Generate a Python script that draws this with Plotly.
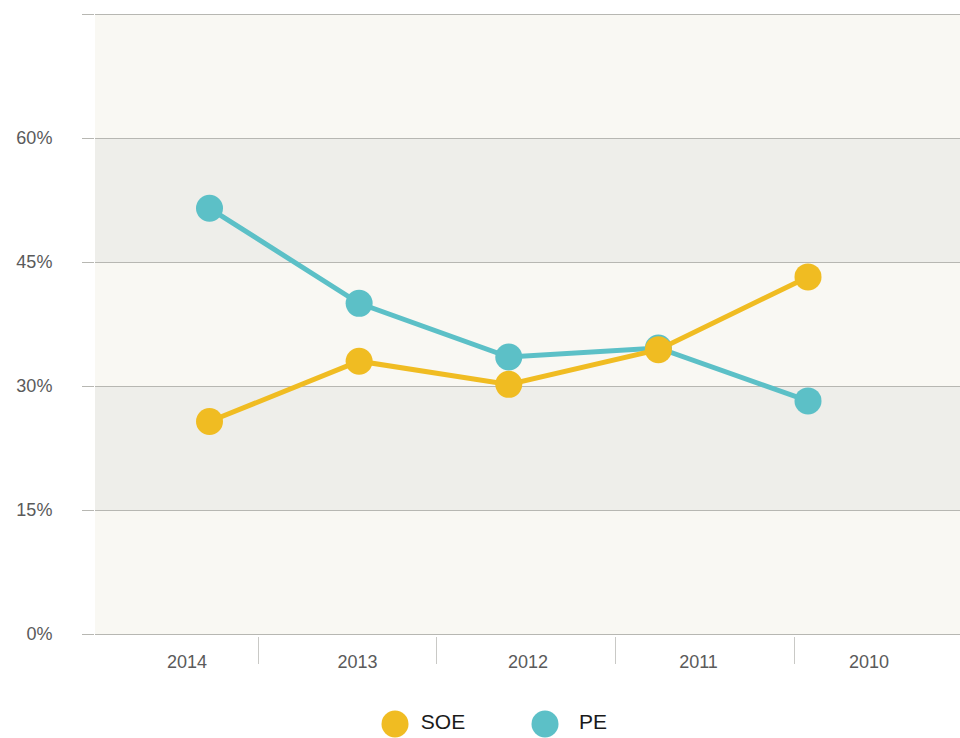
import plotly.graph_objects as go

years = ["2014", "2013", "2012", "2011", "2010"]
soe = [25.7, 33.0, 30.2, 34.4, 43.2]
pe = [51.5, 40.0, 33.5, 34.6, 28.2]
series_names = ["SOE", "PE"]
y_ticks = [0, 15, 30, 45, 60, 75]
y_tick_text = ["0%", "15%", "30%", "45%", "60%", ""]

SOE_C = "#f0bc22"
PE_C = "#5cc0c7"
LIGHT = "#f9f8f3"
DARK = "#eeeeea"
GRID = "#b7b7b2"
n = len(years)
idx = list(range(n))

W, H = 960, 746
SY = H / 738          # vertical pixel targets read on a 738-high picture
L, R = 95, 0          # plot area x: 95..960
Y_TOP, Y_BOT = 14 * SY, 634 * SY  # pixel rows of 75% and 0%
YMAX = 75
pad = 0.3             # small range padding so edge gridlines are drawn
ppy = (Y_BOT - Y_TOP) / YMAX
top_px = Y_TOP - pad * ppy
bot_px = Y_BOT + pad * ppy
ydom = [(H - bot_px) / H, (H - top_px) / H]
pw = W - L - R

# point axis: index 0 -> 209.5px, index 4 -> 808px
p0, p4 = 209.5, 808
ppu = (p4 - p0) / (n - 1)
x_range = [-(p0 - L) / ppu, (n - 1) + (W - R - p4) / ppu]

# label axis (category): first label 187px, last 869px
lab0, lab4 = 187, 869
lsp = (lab4 - lab0) / (n - 1)
lab_range = [-(lab0 - L) / lsp, (n - 1) + (W - R - lab4) / lsp]

# separator axis: spacing 178.7px, first boundary at 258px
sep_ppu = 178.7
sep_zero = 258 - 0.5 * sep_ppu
sep_range = [(L - sep_zero) / sep_ppu, (W - R - sep_zero) / sep_ppu]

# legend axis: SOE at 395px, PE at 545px, row centre at 724px
g0, g1 = 395, 545
gppu = g1 - g0
leg_range = [-(g0 - L) / gppu, -(g0 - L) / gppu + pw / gppu]
leg_dom_h = 2 * (H - 724 * SY)
leg_text_shift = 48 / gppu

fig = go.Figure()

# background bands
fig.add_shape(type="rect", xref="x domain", yref="y", x0=0, x1=1, y0=0, y1=YMAX,
              fillcolor=LIGHT, line=dict(width=0), layer="below")
for lo, hi in [(15, 30), (45, 60)]:
    fig.add_shape(type="rect", xref="x domain", yref="y", x0=0, x1=1, y0=lo, y1=hi,
                  fillcolor=DARK, line=dict(width=0), layer="below")

for name, vals, col in [("PE", pe, PE_C), ("SOE", soe, SOE_C)]:
    fig.add_trace(go.Scatter(
        x=idx, y=vals, mode="lines+markers", name=name,
        line=dict(color=col, width=5),
        marker=dict(color=col, size=27),
        xaxis="x", yaxis="y", showlegend=False, cliponaxis=False,
        hovertemplate="%{y:.1f}%<extra>" + name + "</extra>",
    ))

# placeholder traces so the label / separator axes are drawn
fig.add_trace(go.Scatter(x=years, y=[None] * n, xaxis="x2", yaxis="y",
                         showlegend=False, hoverinfo="skip", mode="markers"))
fig.add_trace(go.Scatter(x=[0.5], y=[None], xaxis="x3", yaxis="y",
                         showlegend=False, hoverinfo="skip", mode="markers"))

# custom legend (large circles + labels)
leg_idx = list(range(len(series_names)))
fig.add_trace(go.Scatter(
    x=leg_idx, y=[0.5] * len(leg_idx), mode="markers",
    marker=dict(color=[SOE_C, PE_C], size=27),
    xaxis="x4", yaxis="y4", showlegend=False, cliponaxis=False, hoverinfo="skip",
))
fig.add_trace(go.Scatter(
    x=[i + leg_text_shift for i in leg_idx], y=[0.5] * len(leg_idx), mode="text",
    text=series_names, textposition="middle center",
    textfont=dict(family="Liberation Sans, Arial", size=21, color="#1a1a1a"),
    xaxis="x4", yaxis="y4", showlegend=False, cliponaxis=False, hoverinfo="skip",
))

tickfont = dict(family="Liberation Sans, Arial", size=18, color="#5a5a5a")

fig.update_layout(
    width=W, height=H,
    margin=dict(l=L, r=R, t=0, b=0),
    paper_bgcolor="white",
    plot_bgcolor="rgba(0,0,0,0)",
    showlegend=False,
    xaxis=dict(range=x_range, domain=[0, 1], anchor="y", showgrid=False, zeroline=False,
               showticklabels=False, ticks="", showline=False, fixedrange=True),
    xaxis2=dict(type="category", categoryorder="array", categoryarray=years, range=lab_range,
                anchor="y", overlaying="x", side="bottom",
                showgrid=False, zeroline=False, ticks="", showline=False,
                tickfont=tickfont, ticklabelstandoff=13, fixedrange=True),
    xaxis3=dict(range=sep_range, anchor="y", overlaying="x", side="bottom",
                tickvals=[i + 0.5 for i in range(n - 1)], showticklabels=False,
                ticks="outside", ticklen=27, tickcolor="#c9c9c6", tickwidth=1,
                showgrid=False, zeroline=False, showline=False, fixedrange=True),
    yaxis=dict(range=[-pad, YMAX + pad], domain=ydom, anchor="x",
               tickvals=y_ticks, ticktext=y_tick_text,
               showgrid=True, gridcolor=GRID, gridwidth=1, zeroline=False,
               ticks="outside", ticklen=12, tickcolor=GRID, tickwidth=1,
               tickfont=tickfont, ticklabelstandoff=26, showline=False, fixedrange=True),
    xaxis4=dict(range=leg_range, domain=[0, 1], anchor="y4", visible=False, fixedrange=True),
    yaxis4=dict(range=[0, 1], domain=[0, leg_dom_h / H], anchor="x4", visible=False,
                fixedrange=True),
)

fig.write_html(
    "out.html",
    config={"displayModeBar": False},
    post_script=(
        "document.documentElement.style.overflow='hidden';"
        "document.body.style.margin='0';"
        "document.body.style.overflow='hidden';"
    ),
)
